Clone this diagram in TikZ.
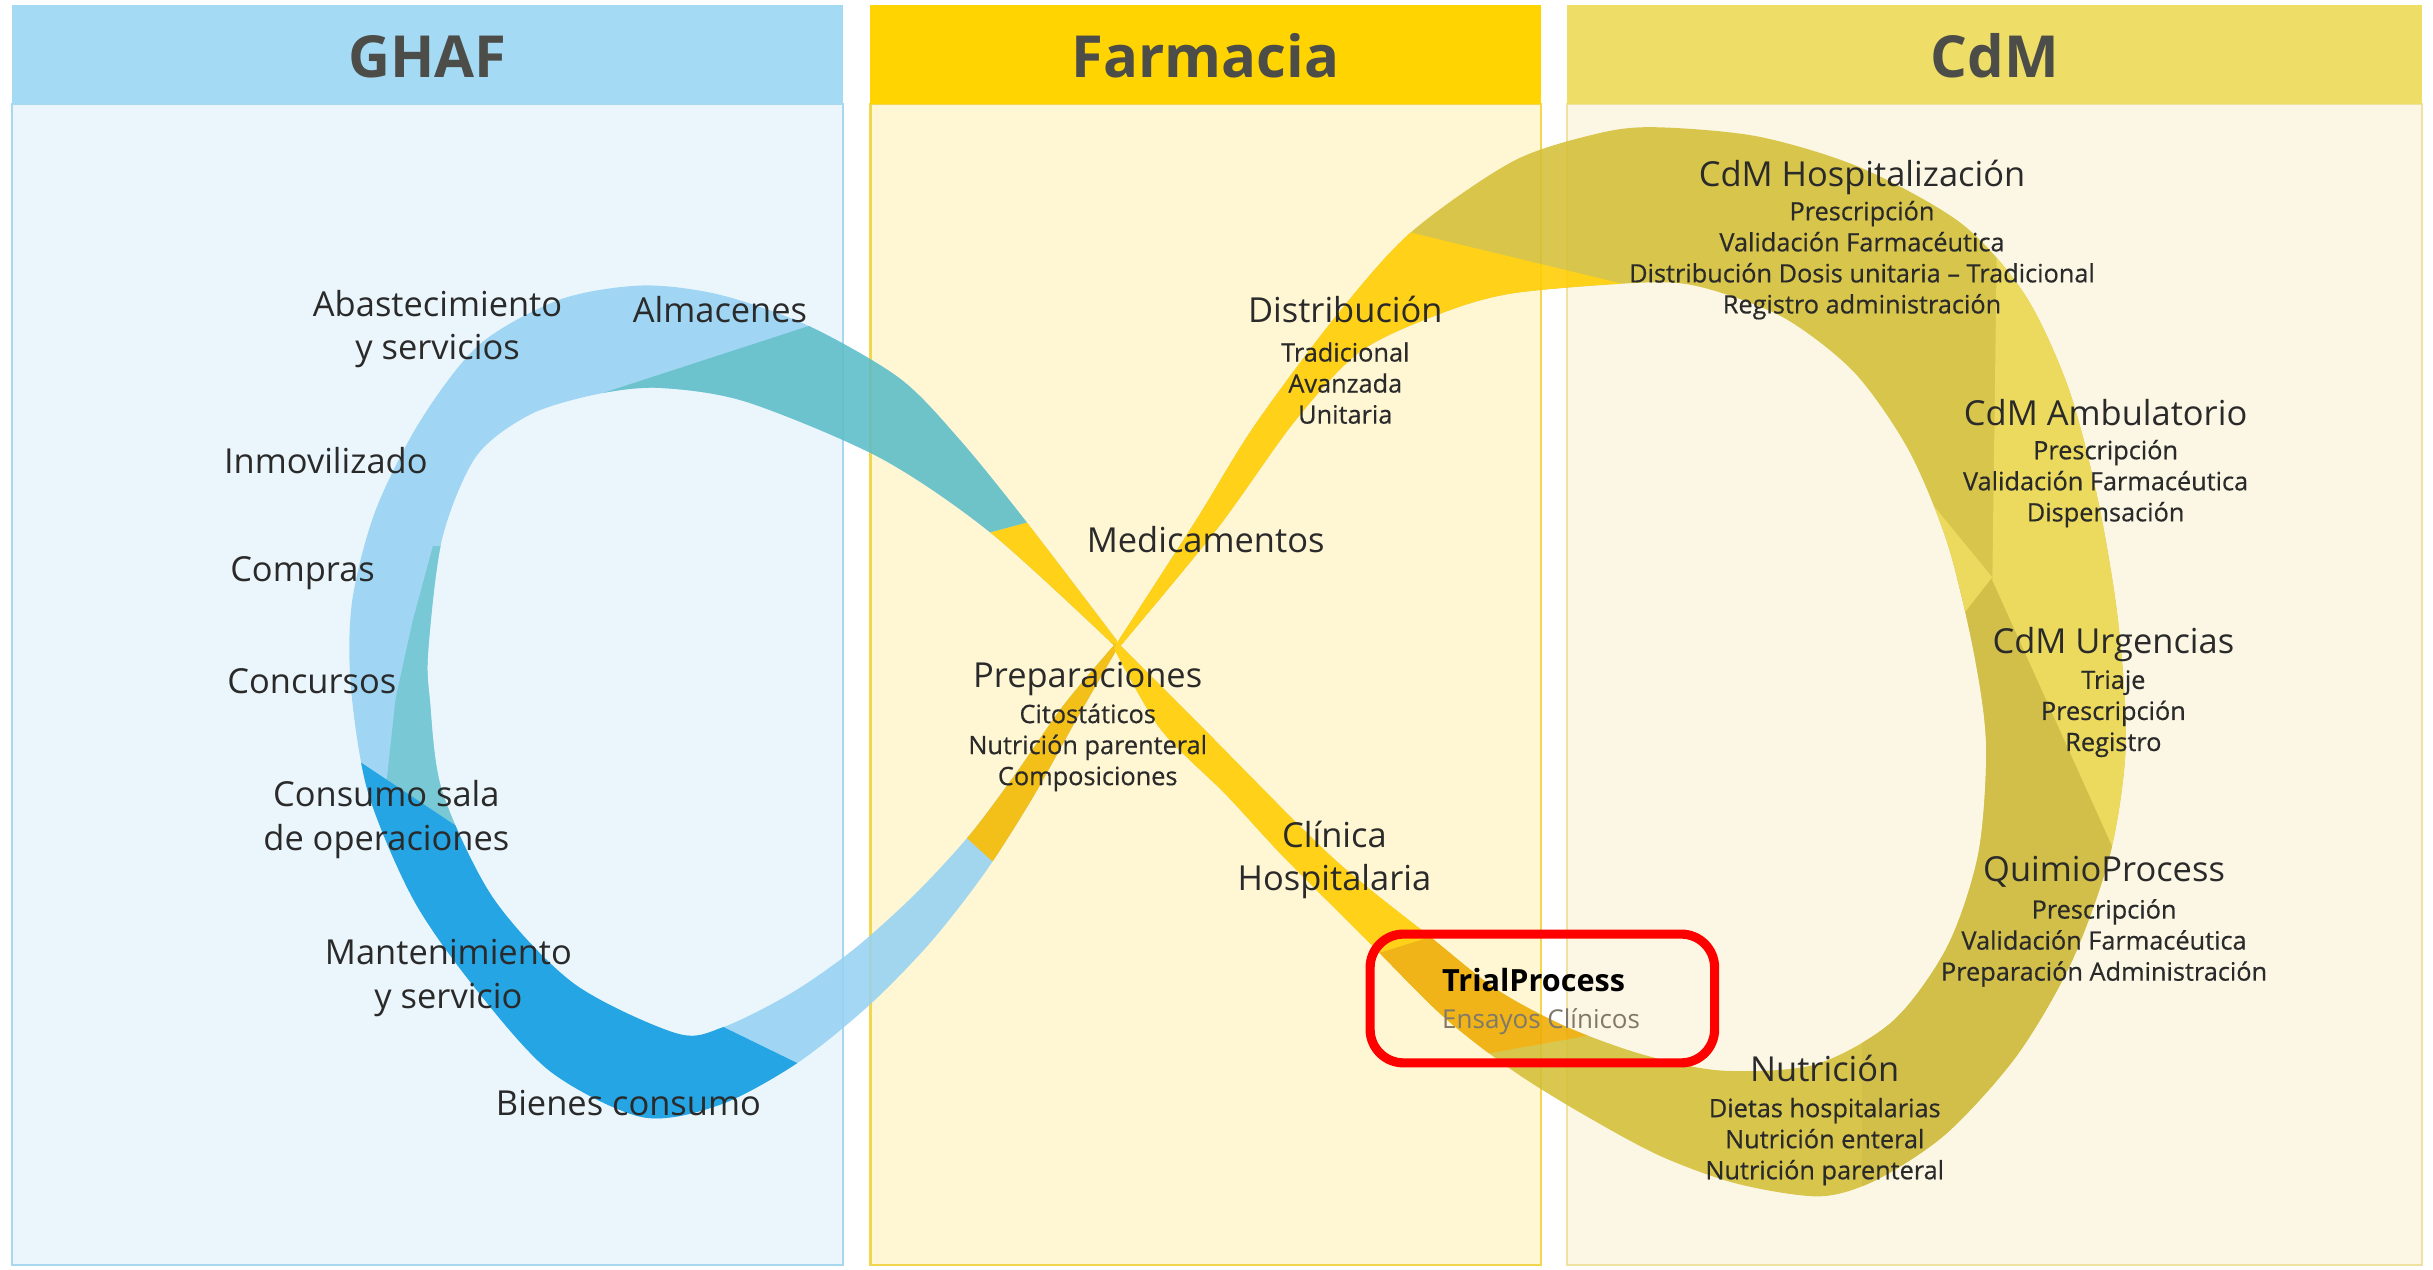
\documentclass[tikz,border=0pt]{standalone}
\usepackage{fontspec}
\setmainfont{Open Sans}
\newfontfamily\semifont{Open Sans}[FakeBold=0.5]

% panel colours
\definecolor{headghaf}{HTML}{A5DAF5}
\definecolor{bodyghaf}{HTML}{EBF6FC}
\definecolor{lineghaf}{HTML}{A8D8F0}
\definecolor{headfarm}{HTML}{FFD400}
\definecolor{bodyfarm}{HTML}{FFF6D4}
\definecolor{linefarm}{HTML}{F2D650}
\definecolor{headcdm}{HTML}{EEDD66}
\definecolor{bodycdm}{HTML}{FCF7E4}
\definecolor{linecdm}{HTML}{EEE2A0}
% ribbon colours
\definecolor{ribblue}{HTML}{96D2F2}
\definecolor{ribteal}{HTML}{5BBDC8}
\definecolor{ribstrip}{HTML}{6AC2D0}
\definecolor{ribdark}{HTML}{0A9AE0}
\definecolor{ribgold}{HTML}{FFCD00}
\definecolor{ribamber}{HTML}{F2B800}
\definecolor{ribolive}{HTML}{D4BF38}
\definecolor{ribdeep}{HTML}{CCB834}
\definecolor{ribpale}{HTML}{E9D64C}
\definecolor{riborange}{HTML}{EEAB00}
% text colours
\definecolor{headtext}{HTML}{4C4D48}
\definecolor{textdark}{HTML}{2A2A2A}
\definecolor{greytext}{HTML}{80796A}

% loops of the ribbon: outer edge, then inner edge run backwards
\newcommand\leftloop{plot[smooth] coordinates {(720,413) (662,337) (619,284) (580,244) (521,210) (464,190) (414,184) (361,193) (309,222) (271,271) (242,329) (227,387) (226,441) (237,510) (266,579) (304,634) (354,690) (414,720) (464,712) (514,685) (560,648) (600,607) (635,562) (665,515) (693,465) (720,418)} -- cycle
  plot[smooth] coordinates {(716,418) (685,455) (655,498) (625,538) (590,576) (550,612) (510,640) (466,662) (436,666) (370,634) (318,579) (285,510) (277,451) (276,419) (285,347) (307,294) (342,267) (385,254) (425,250) (481,259) (567,295) (638,343) (718,416)} -- cycle}
\newcommand\rightloop{plot[smooth] coordinates {(722,411) (771,335) (808,275) (860,205) (909,150) (975,104) (1030,86) (1067,82) (1133,88) (1199,108) (1264,144) (1305,190) (1333,250) (1352,322) (1365,400) (1370,480) (1360,550) (1335,620) (1300,680) (1255,730) (1210,760) (1173,771) (1120,763) (1070,745) (1020,718) (975,690) (930,655) (881,606) (827,552) (790,512) (748,470) (718,418)} -- cycle
  plot[smooth] coordinates {(722,416) (776,470) (858,552) (922,604) (965,638) (1010,662) (1060,680) (1110,690) (1170,686) (1220,658) (1255,610) (1275,550) (1280,480) (1272,420) (1255,350) (1230,290) (1195,240) (1150,205) (1100,186) (1063,182) (975,189) (926,203) (876,227) (834,272) (785,340) (724,414)} -- cycle}

\tikzset{
  headlbl/.style={font=\fontsize{16.5}{20}\selectfont\bfseries, text=headtext, inner sep=0, anchor=base},
  mainlbl/.style={font=\fontsize{9.8}{12.4}\selectfont, text=textdark, inner sep=0, anchor=base, align=center},
  sublbl/.style={font=\semifont\fontsize{7.2}{8.83}\selectfont, text=textdark, inner sep=0, anchor=base, align=center},
  triallbl/.style={font=\fontsize{8.7}{10}\selectfont\bfseries, text=black, inner sep=0, anchor=base west},
  trialsub/.style={font=\fontsize{7.4}{9}\selectfont, text=greytext, inner sep=0, anchor=base west},
  trialframe/.style={draw=red, line width=2.6pt, rounded corners=9.5pt}
}

\begin{document}
\begin{tikzpicture}[x=0.15517mm,y=-0.15517mm]
  \useasboundingbox (0,0) rectangle (1568,818);
  % panels
  \foreach \xa/\xb/\pn/\ttl in {8/543/ghaf/GHAF, 561/993/farm/Farmacia, 1010/1561/cdm/CdM} {
    \fill[body\pn] (\xa,67) rectangle (\xb,815);
    \draw[line\pn, line width=0.6pt] (\xa,67) rectangle (\xb,815);
    \fill[head\pn] (\xa,3) rectangle (\xb,67);
    \node[headlbl] (head-\pn) at ({(\xa+\xb)/2},50) {\ttl};
  }
  % ribbon
  \begin{scope}[transparency group, opacity=0.88]
    \begin{scope}
      \clip \leftloop;
      \fill[ribblue] (0,0) rectangle (800,818);
      \fill[ribteal] (624,347) -- (368,260) -- (540,204) -- (545,180) -- (620,180) -- (710,330) -- (676,333) -- cycle;
      \fill[ribstrip] (279,352) -- (266,400) -- (255,450) -- (249,505) -- (262,560) -- (340,560) -- (340,352) -- cycle;
      \fill[ribdark] (205,473) -- (310,543) -- (450,654) -- (532,694) -- (520,800) -- (150,800) -- (150,473) -- cycle;
      \fill[ribgold] (624,347) -- (676,333) -- (745,410) -- (722,428) -- cycle;
      \fill[ribamber] (612,530) -- (656,570) -- (745,430) -- (700,405) -- cycle;
    \end{scope}
    \begin{scope}
      \clip \rightloop;
      \fill[ribolive] (600,0) rectangle (1568,818);
      \fill[ribdeep] (1284,372) -- (1366,556) -- (1420,800) -- (1200,800) -- (1200,372) -- cycle;
      \fill[ribpale] (1287,150) -- (1284,374) -- (1366,556) -- (1420,556) -- (1420,150) -- cycle;
      \fill[ribpale] (1210,282) -- (1284,372) -- (1262,400) -- (1200,400) -- cycle;
      \fill[ribgold] (600,416) -- (736,416) -- (1075,190) -- (860,138) -- (600,138) -- cycle;
      \fill[ribgold] (700,410) -- (760,410) -- (938,599) -- (870,620) -- (700,460) -- cycle;
      \fill[riborange] (870,620) -- (938,599) -- (1060,661) -- (930,684) -- cycle;
    \end{scope}
  \end{scope}
  % GHAF
  \node[mainlbl] (abast) at (282,232) {Abastecimiento\\y servicios};
  \node[mainlbl] (almacenes) at (464,208) {Almacenes};
  \node[mainlbl] (inmov) at (210,305) {Inmovilizado};
  \node[mainlbl] (compras) at (195,375) {Compras};
  \node[mainlbl] (concursos) at (201,447) {Concursos};
  \node[mainlbl] (consumo) at (249,548) {Consumo sala\\de operaciones};
  \node[mainlbl] (manten) at (289,650) {Mantenimiento\\y servicio};
  \node[mainlbl] (bienes) at (405,719) {Bienes consumo};
  % Farmacia
  \node[mainlbl] (medic) at (777,356) {Medicamentos};
  \node[mainlbl] (distrib) at (867,208) {Distribución};
  \node[sublbl] (distrib-sub) at (867,273) {Tradicional\\Avanzada\\Unitaria};
  \node[mainlbl] (prepar) at (701,443) {Preparaciones};
  \node[sublbl] (prepar-sub) at (701,506) {Citostáticos\\Nutrición parenteral\\Composiciones};
  \node[mainlbl] (clinica) at (860,574) {Clínica\\Hospitalaria};
  \node[triallbl] (trial) at (929,639) {TrialProcess};
  \node[trialsub] (trial-sub) at (929,663) {Ensayos Clínicos};
  % CdM
  \node[mainlbl] (hosp) at (1200,120) {CdM Hospitalización};
  \node[sublbl] (hosp-sub) at (1200,202) {Prescripción\\Validación Farmacéutica\\Distribución Dosis unitaria – Tradicional\\Registro administración};
  \node[mainlbl] (ambul) at (1357,274) {CdM Ambulatorio};
  \node[sublbl] (ambul-sub) at (1357,336) {Prescripción\\Validación Farmacéutica\\Dispensación};
  \node[mainlbl] (urg) at (1362,421) {CdM Urgencias};
  \node[sublbl] (urg-sub) at (1362,484) {Triaje\\Prescripción\\Registro};
  \node[mainlbl] (quimio) at (1356,568) {QuimioProcess};
  \node[sublbl] (quimio-sub) at (1356,632) {Prescripción\\Validación Farmacéutica\\Preparación Administración};
  \node[mainlbl] (nutri) at (1176,697) {Nutrición};
  \node[sublbl] (nutri-sub) at (1176,760) {Dietas hospitalarias\\Nutrición enteral\\Nutrición parenteral};
  % highlight
  \draw[trialframe] (883,602) rectangle (1105,685);
\end{tikzpicture}
\end{document}
